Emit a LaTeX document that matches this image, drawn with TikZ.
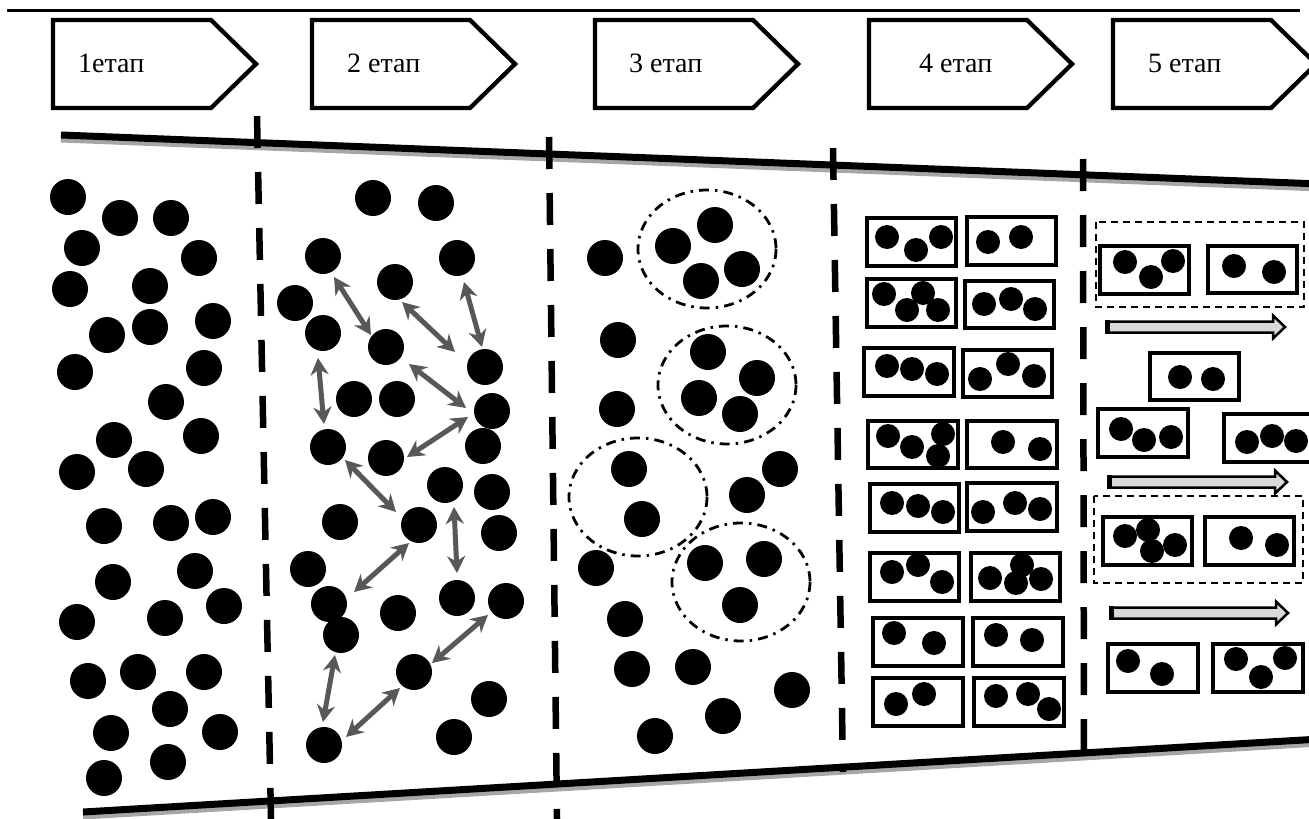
\documentclass[tikz,border=0pt]{standalone}
\usepackage{fontspec}
\setmainfont{Liberation Serif}
\usetikzlibrary{arrows.meta}
\definecolor{shade}{HTML}{A6A6A6}
\definecolor{linkgray}{HTML}{585858}
\definecolor{flowfill}{HTML}{D9D9D9}
\tikzset{
  stagebox/.style={draw=black,line width=4.3pt,fill=white,line join=miter},
  stagelabel/.style={anchor=base west,inner sep=0pt,
                     font=\fontsize{28}{33}\selectfont},
  border/.style={line width=7pt},
  bordershade/.style={line width=7pt,draw=shade},
  divider/.style={line width=6.5pt,dash pattern=on 32pt off 24pt},
  particle/.style={fill=black},
  cluster/.style={line width=2.8pt,dash pattern=on 10pt off 6pt on 2.5pt off 6pt},
  cell/.style={draw,line width=3.4pt},
  group/.style={draw,line width=1.8pt,dash pattern=on 7pt off 5pt},
  link/.style={arrows={Stealth[length=17pt,width=18pt]-Stealth[length=17pt,width=18pt]},
               line width=5pt,draw=linkgray},
  flow/.style={draw,line width=2.5pt,fill=flowfill,line join=miter}
}
\begin{document}
\begin{tikzpicture}[x=1pt,y=-1pt]
  \useasboundingbox (0,0) rectangle (1309,819);
  \clip (0,0) rectangle (1309,819);

  % top rule and stage headings
  \draw[line width=3pt] (7,10) -- (1300,10);
  \foreach \L/\dx/\txt/\nm in {53/25/1етап/stage1,312/35/2 етап/stage2,
      595/34/3 етап/stage3,869/50/4 етап/stage4,1113/35/5 етап/stage5}{
    \draw[stagebox] (\L,20) -- ++(158,0) -- ++(45,44) -- ++(-45,44)
      -- ++(-158,0) -- cycle;
    \node[stagelabel] (\nm) at (\L+\dx,72) {\txt};
  }

  % channel walls
  \draw[bordershade] (61,139) -- (1320,188);
  \draw[border] (61,135) -- (1320,184);
  \draw[bordershade] (83,816) -- (1320,743);
  \draw[border] (83,812) -- (1320,739);

  % stage borders
  \draw[divider] (257,116) -- (271,819);
  \draw[divider] (549,137) -- (557,819);
  \draw[divider] (833,148) -- (843,772);
  \draw[divider] (1083,159) -- (1084,772);

  % stage 1: free particles
  \foreach \x/\y in {68/197,120/218,171/218,82/248,199/258,70/289,150/286,
      107/335,150/327,213/321,75/372,204/368,166/402,114/440,201/436,77/472,
      146/469,104/526,171/523,213/517,113/582,195/571,77/622,165/618,224/606,
      88/681,138/672,204/672,170/709,111/733,220/732,168/762,104/778}
    \fill[particle] (\x,\y) circle[radius=18];

  % stage 2: particles and interactions
  \foreach \x/\y in {373/198,436/203,323/256,457/258,395/282,295/303,323/333,
      386/347,485/367,354/399,397/399,492/411,328/447,386/458,483/446,445/485,
      492/492,340/522,419/525,499/533,308/569,329/604,341/635,398/613,457/598,
      506/601,414/672,489/699,324/745,454/737}
    \fill[particle] (\x,\y) circle[radius=18];
  \foreach \a/\b/\c/\d in {334/277/371/335,402/302/455/352,464/282/482/347,
      318/358/324/424,409/364/466/408,468/417/407/457,345/460/396/512,
      409/543/354/592,454/507/457/573,488/615/432/663,335/655/323/722,
      400/688/346/737}
    \draw[link] (\a,\b) -- (\c,\d);

  % stage 3: clusters
  \foreach \x/\y in {605/258,673/246,715/225,742/269,701/281,618/340,617/409,
      708/352,757/378,699/398,740/414,629/469,642/519,780/469,747/495,
      705/563,764/559,740/605,596/568,625/619,632/669,693/667,792/690,
      723/716,655/736}
    \fill[particle] (\x,\y) circle[radius=18];
  \foreach \x/\y in {707/249,727/385,638/497,741/582}
    \draw[cluster] (\x,\y) ellipse[x radius=69,y radius=59];

  % stage 4: packed cells
  \foreach \a/\b/\c/\d in {867/218/956/266,967/217/1056/265,867/279/956/327,
      965/281/1054/328,864/348/954/396,963/350/1052/397,868/421/958/468,
      967/421/1057/468,870/484/959/532,967/483/1057/531,870/553/959/601,
      971/553/1060/601,873/618/963/666,973/618/1063/666,873/678/963/726,
      974/678/1064/726}
    \draw[cell] (\a,\b) rectangle (\c,\d);
  \foreach \x/\y in {887/237,916/250,941/237,988/242,1021/237,
      884/294,923/293,907/310,938/310,984/304,1011/299,1035/309,
      887/366,912/369,937/374,980/379,1008/364,1034/376,
      888/436,912/447,943/434,938/456,1003/442,1040/449,
      892/503,918/506,943/512,983/512,1015/503,1040/509,
      892/572,918/565,942/582,990/578,1022/565,1016/583,1041/579,
      894/633,934/643,996/635,1032/640,
      896/704,924/694,996/696,1028/694,1049/709}
    \fill[particle] (\x,\y) circle[radius=12];

  % stage 5: cells moving on
  \draw[group] (1096,222) rectangle (1304,307);
  \draw[group] (1094,496) rectangle (1303,583);
  \foreach \a/\b/\c/\d in {1100/246/1189/294,1208/246/1297/293,
      1150/353/1239/400,1098/409/1188/457,1224/414/1313/462,
      1103/517/1192/565,1205/517/1294/565,1108/644/1198/692,
      1213/644/1303/692}
    \draw[cell] (\a,\b) rectangle (\c,\d);
  \foreach \x/\y in {1125/262,1151/277,1173/261,1234/266,1274/272,
      1180/377,1213/379,1121/429,1144/440,1171/437,1247/442,1272/436,
      1296/441,1125/536,1148/530,1175/545,1152/551,1241/538,1277/545,
      1128/661,1162/674,1236/659,1261/677,1285/658}
    \fill[particle] (\x,\y) circle[radius=12];
  \foreach \xa/\xb/\yy in {1107/1285/327,1109/1287/482,1111/1288/613}{
    \draw[flow] (\xa,\yy-5.5) -- (\xb-12,\yy-5.5) -- (\xb-12,\yy-11.5)
      -- (\xb,\yy) -- (\xb-12,\yy+11.5) -- (\xb-12,\yy+5.5)
      -- (\xa,\yy+5.5) -- cycle;
    \draw[line width=5pt] (\xa,\yy-7) -- (\xa,\yy+7);
  }
\end{tikzpicture}
\end{document}
